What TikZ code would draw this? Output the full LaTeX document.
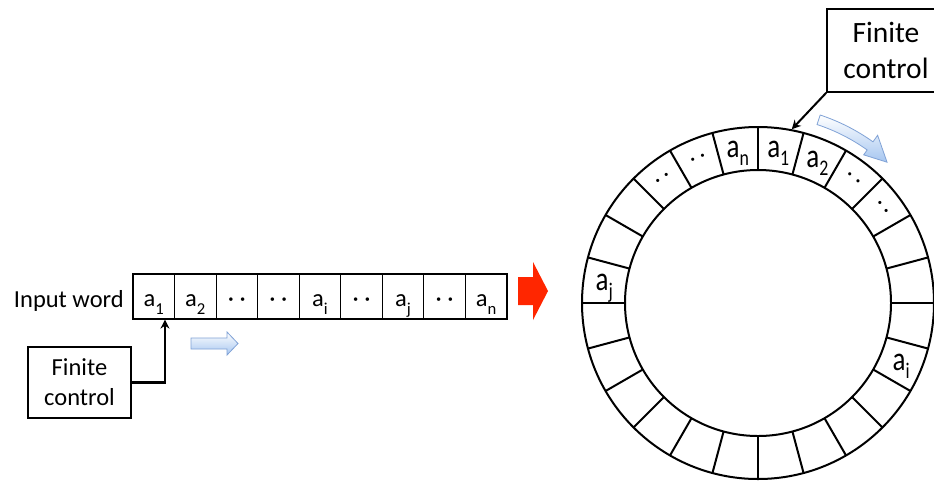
\documentclass[tikz,border=0pt]{standalone}
\usepackage{fontspec}
\usepackage{graphicx}
\setmainfont{Carlito}
\usetikzlibrary{arrows.meta,calc}
\newcommand{\ssb}[1]{\raisebox{-0.36em}{\scalebox{0.68}{#1}}}
\newcommand{\rsb}[1]{\raisebox{-0.24em}{\scalebox{0.66}{#1}}}
\newcommand{\rl}[1]{\scalebox{1}[1.25]{#1}}
\definecolor{arrowred}{RGB}{255,38,0}
\definecolor{lightblue}{RGB}{166,198,240}
\definecolor{blueedge}{RGB}{128,162,214}
\tikzset{
  cell/.style={draw, line width=1.2pt, minimum width=41.55pt, minimum height=45pt,
    inner sep=0pt, text height=19pt, text depth=0pt, font=\fontsize{24.5}{28}\selectfont},
  ctrlbox/.style={draw, line width=1.6pt, align=center, inner sep=0pt},
  ringlbl/.style={inner sep=0pt, text height=16pt, text depth=0pt, font=\fontsize{27}{30}\selectfont},
  ringdots/.style={inner sep=0pt, text height=7pt, text depth=0pt, font=\fontsize{22}{24}\selectfont},
  ringline/.style={line width=2pt},
  blockblue/.style={top color=white, bottom color=lightblue, draw=blueedge, line width=0.8pt},
  headarrow/.style={-{Stealth[length=9pt,width=9pt]}},
}
\begin{document}
\begin{tikzpicture}[x=1pt,y=1pt]
\clip (0,0) rectangle (934,-483);
\fill[white] (0,0) rectangle (934,-483);

% ---------- linear tape ----------
\node[anchor=base east, font=\fontsize{24.5}{28}\selectfont, inner sep=0pt] (iw) at (124,-307) {Input word};
\foreach \i/\t in {0/{a\ssb{1}},1/{a\ssb{2}},2/{·~·},3/{·~·},4/{a\ssb{i}},5/{·~·},6/{a\ssb{j}},7/{·~·},8/{a\ssb{n}}}{
  \node[cell] (c\i) at ({133+41.55*\i+20.775},-296.5) {\t};
}

% finite control (left)
\node[ctrlbox, minimum width=103pt, minimum height=71pt, font=\fontsize{24.5}{30}\selectfont] (lfc) at (79.5,-382.5) {Finite\\control};
\coordinate (head) at ($(c0.south)+(11.2,0)$);
\draw[headarrow, line width=2.4pt] (lfc.east) -| (head);

% blue move arrow (left)
\shade[blockblue] (191,-338) -- (227,-338) -- (227,-332) -- (238,-343.5) -- (227,-355) -- (227,-349) -- (191,-349) -- cycle;

% red arrow
\fill[arrowred] (518,-277) -- (533,-277) -- (533,-262) -- (548,-291) -- (533,-320) -- (533,-305) -- (518,-305) -- cycle;

% ---------- circular tape ----------
\coordinate (C) at (758,-303);
\begin{scope}[shift={(C)}]
  \draw[ringline] (0,0) circle[radius=176];
  \draw[ringline] (0,0) circle[radius=133];
  \foreach \a in {0,15,...,345}{
    \draw[ringline] (\a:133) -- (\a:176);
  }
  \node[ringlbl] (rn) at (97.5:155) {\rl{a\rsb{n}}};
  \node[ringlbl] (r1) at (82.5:155) {\rl{a\rsb{1}}};
  \node[ringlbl] (r2) at (67.5:155) {\rl{a\rsb{2}}};
  \node[ringlbl] (rj) at (172.5:155) {\rl{a\rsb{j}}};
  \node[ringlbl] (ri) at (337.5:155) {\rl{a\rsb{i}}};
  \foreach \a in {37.5,52.5,112.5,127.5}{
    \node[ringdots, rotate=\a-90] (d\a) at (\a:155) {·\hspace{5pt}·};
  }
  \coordinate (rtip) at (79:177);
  % curved blue arrow
  \shade[blockblue] (71.7:198) arc[start angle=71.7, end angle=54.5, radius=198]
     -- (54.5:206) -- (47.5:191) -- (54.5:182) -- (54.5:188)
     arc[start angle=54.5, end angle=71.7, radius=188] -- cycle;
\end{scope}

% finite control (right)
\node[ctrlbox, minimum width=118pt, minimum height=83pt, font=\fontsize{29.5}{36}\selectfont] (rfc) at (886,-50.5) {Finite\\control};
\draw[headarrow, line width=2pt] (rfc.south west) -- (rtip);
\end{tikzpicture}
\end{document}
